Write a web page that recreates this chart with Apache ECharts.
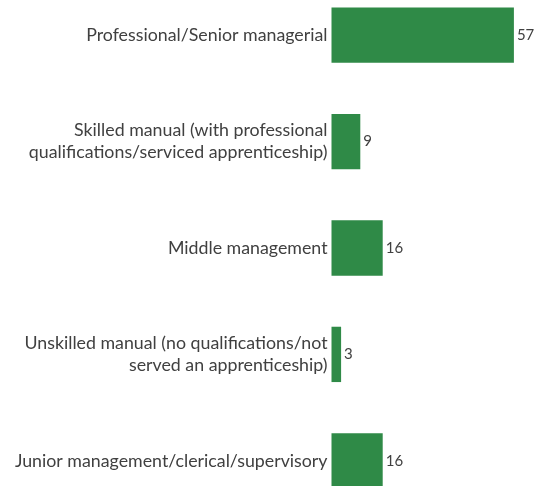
<!DOCTYPE html>
<html>
<head>
<meta charset="utf-8">
<script src="https://cdn.jsdelivr.net/npm/echarts@6/dist/echarts.min.js"></script>
<style>
  html, body { margin: 0; padding: 0; background: #ffffff; overflow: hidden; width: 535px; height: 486px; }
  /* plot area runs a little past the top and bottom edges of the page */
  #chart { position: absolute; left: 0; top: -18px; width: 535px; height: 532px; }
</style>
</head>
<body>
<div id="chart"></div>
<script>
// Occupation categories, listed top to bottom
const categories = [
  'Professional/Senior managerial',
  'Skilled manual (with professional\nqualifications/serviced apprenticeship)',
  'Middle management',
  'Unskilled manual (no qualifications/not\nserved an apprenticeship)',
  'Junior management/clerical/supervisory'
];
const counts = [57, 9, 16, 3, 16];

const chart = echarts.init(document.getElementById('chart'), null, { renderer: 'canvas' });

const FONT = 'Lato, "Open Sans", sans-serif';
const TEXT = '#404040';

chart.setOption({
  animation: false,
  backgroundColor: '#ffffff',
  grid: { left: 331.5, right: 11.5, top: 0, bottom: 0, containLabel: false },
  xAxis: {
    type: 'value',
    min: 0,
    max: 60,
    show: false
  },
  yAxis: {
    type: 'category',
    inverse: true,
    data: categories,
    axisLine: { show: false },
    axisTick: { show: false },
    splitLine: { show: false },
    axisLabel: {
      color: TEXT,
      fontFamily: FONT,
      fontSize: 17.8,
      lineHeight: 22,
      align: 'right',
      margin: 4
    }
  },
  series: [{
    type: 'bar',
    data: counts,
    barWidth: '52%',
    itemStyle: { color: '#2f8a47' },
    label: {
      show: true,
      position: 'right',
      distance: 3,
      color: TEXT,
      fontFamily: FONT,
      fontSize: 15
    }
  }]
});
</script>
</body>
</html>
